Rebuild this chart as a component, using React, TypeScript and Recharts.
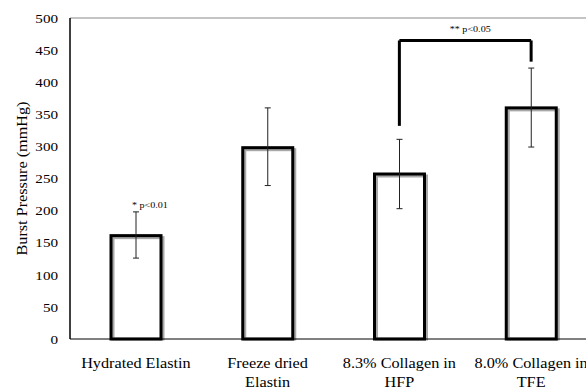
import {
  Bar,
  BarChart,
  ErrorBar,
  ReferenceDot,
  ReferenceLine,
  XAxis,
  YAxis,
} from "recharts";

const categories = [
  "Hydrated Elastin",
  "Freeze dried\nElastin",
  "8.3% Collagen in\nHFP",
  "8.0% Collagen in\nTFE",
];
const burstPressure = [161, 298, 257, 360];
const errorLow = [126, 239, 203, 299];
const errorHigh = [198, 360, 311, 422];
const yTicks = [0, 50, 100, 150, 200, 250, 300, 350, 400, 450, 500];

// significance bracket between the two collagen groups
const bracketTop = 465;
const bracketLeftEnd = 332;
const bracketRightEnd = 432;

const chartData = categories.map((name, i) => ({
  name,
  value: burstPressure[i],
  err: [burstPressure[i] - errorLow[i], errorHigh[i] - burstPressure[i]],
}));

const font = "Liberation Serif";
// the original's serif text is a bit wider than Times
const stretch = 1.12;

function OutlinedBar(props: any) {
  const { x, y, width, height } = props;
  if (!height) return null;
  return (
    <g>
      <rect
        x={x + 2}
        y={y + 2}
        width={width}
        height={height - 2}
        fill="none"
        stroke="#a8a8a8"
        strokeWidth={3}
      />
      <rect
        x={x}
        y={y}
        width={width}
        height={height}
        fill="#fff"
        fillOpacity={0}
        stroke="#000"
        strokeWidth={3}
      />
    </g>
  );
}

function CategoryTick(props: any) {
  const { x, y, payload } = props;
  const lines = String(payload.value).split("\n");
  return (
    <g transform={`translate(${x},${y}) scale(${stretch},1)`}>
      <text
        x={0}
        y={0}
        textAnchor="middle"
        fill="#000"
        fontSize={14.5}
        fontFamily={font}
      >
        {lines.map((line, i) => (
          <tspan key={i} x={0} dy={i === 0 ? 21 : 19}>
            {line}
          </tspan>
        ))}
      </text>
    </g>
  );
}

function ValueTick(props: any) {
  const { x, y, payload } = props;
  return (
    <g transform={`translate(${x},${y}) scale(${stretch},1)`}>
      <text
        x={0}
        y={0}
        dy="0.355em"
        textAnchor="end"
        fill="#000"
        fontSize={13.5}
        fontFamily={font}
      >
        {payload.value}
      </text>
    </g>
  );
}

function AxisTitle(props: any) {
  const { viewBox } = props;
  const cx = 26.5;
  const cy = viewBox.y + viewBox.height / 2;
  return (
    <g transform={`translate(${cx},${cy}) rotate(-90) scale(${stretch},1)`}>
      <text x={0} y={0} textAnchor="middle" fill="#000" fontSize={14.5} fontFamily={font}>
        Burst Pressure (mmHg)
      </text>
    </g>
  );
}

function noteLabel(text: string, anchor: "start" | "middle", dx: number, dy: number) {
  return (props: any) => {
    const vb = props.viewBox;
    const x = vb.x + (anchor === "middle" ? vb.width / 2 : 0) + dx;
    const y = vb.y + dy;
    return (
      <g transform={`translate(${x},${y}) scale(${stretch},1)`}>
        <text x={0} y={0} textAnchor={anchor} fill="#000" fontSize={9} fontFamily={font}>
          {text}
        </text>
      </g>
    );
  };
}

export default function App() {
  return (
    <div
      style={{
        position: "fixed",
        left: 0,
        top: 0,
        width: 586,
        height: 387,
        overflow: "hidden",
        background: "#fff",
      }}
    >
      <BarChart
        width={600}
        height={387}
        data={chartData}
        margin={{ top: 18, right: 3, bottom: 0, left: 0 }}
        barCategoryGap={0}
      >
        <XAxis
          dataKey="name"
          height={48}
          tickLine={false}
          axisLine={{ stroke: "#000", strokeWidth: 1 }}
          tick={<CategoryTick />}
          interval={0}
        />
        <YAxis
          width={70}
          domain={[0, 500]}
          ticks={yTicks}
          tickLine={false}
          axisLine={{ stroke: "#000", strokeWidth: 1.5 }}
          tickMargin={6}
          tick={<ValueTick />}
          label={<AxisTitle />}
        />
        <ReferenceLine y={500} stroke="#b0b0b0" strokeWidth={1.5} />
        <Bar
          dataKey="value"
          barSize={50}
          shape={<OutlinedBar />}
          isAnimationActive={false}
        >
          <ErrorBar
            dataKey="err"
            width={3}
            stroke="#222"
            strokeWidth={1}
            isAnimationActive={false}
          />
        </Bar>
        <ReferenceLine
          segment={[
            { x: categories[2], y: bracketTop },
            { x: categories[3], y: bracketTop },
          ]}
          stroke="#000"
          strokeWidth={3}
          label={noteLabel("** p<0.05", "middle", 5, -8)}
        />
        <ReferenceLine
          segment={[
            { x: categories[2], y: bracketLeftEnd },
            { x: categories[2], y: bracketTop },
          ]}
          stroke="#000"
          strokeWidth={3}
        />
        <ReferenceLine
          segment={[
            { x: categories[3], y: bracketRightEnd },
            { x: categories[3], y: bracketTop },
          ]}
          stroke="#000"
          strokeWidth={3}
        />
        <ReferenceDot
          x={categories[0]}
          y={errorHigh[0]}
          r={0}
          stroke="none"
          label={noteLabel("* p<0.01", "start", -4, -4)}
        />
      </BarChart>
    </div>
  );
}
